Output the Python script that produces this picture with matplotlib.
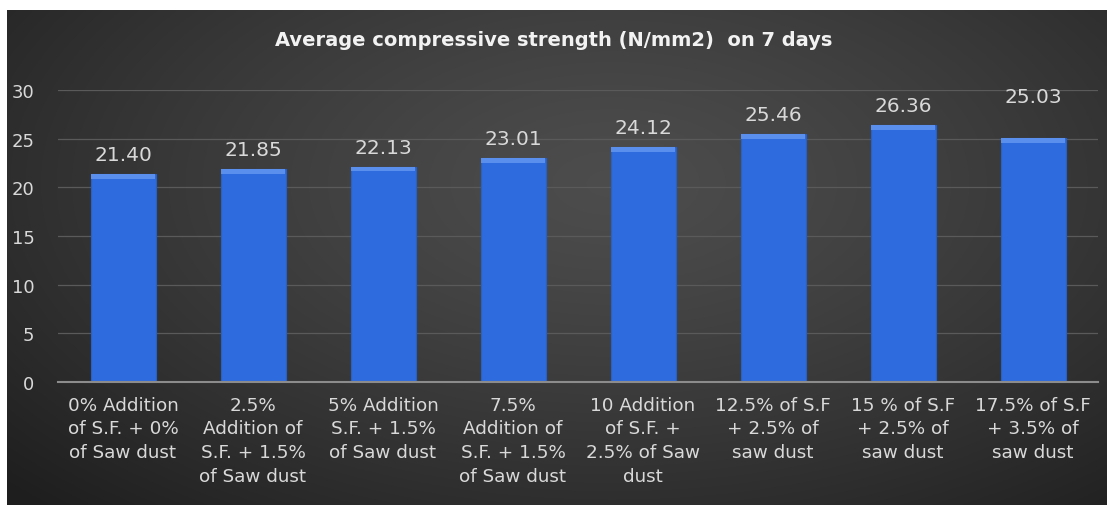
import numpy as np
import matplotlib
matplotlib.use("Agg")
import matplotlib.pyplot as plt

# ---- data ----
categories = [
    "0% Addition\nof S.F. + 0%\nof Saw dust",
    "2.5%\nAddition of\nS.F. + 1.5%\nof Saw dust",
    "5% Addition\nS.F. + 1.5%\nof Saw dust",
    "7.5%\nAddition of\nS.F. + 1.5%\nof Saw dust",
    "10 Addition\nof S.F. +\n2.5% of Saw\ndust",
    "12.5% of S.F\n+ 2.5% of\nsaw dust",
    "15 % of S.F\n+ 2.5% of\nsaw dust",
    "17.5% of S.F\n+ 3.5% of\nsaw dust",
]
values = [21.40, 21.85, 22.13, 23.01, 24.12, 25.46, 26.36, 25.03]
value_labels = ["21.40", "21.85", "22.13", "23.01", "24.12", "25.46", "26.36", "25.03"]
y_ticks = [0, 5, 10, 15, 20, 25, 30]
title = "Average compressive strength (N/mm2)  on 7 days"

# ---- figure ----
W, H = 1107, 506
fig = plt.figure(figsize=(W / 100, H / 100), dpi=100, facecolor="white")

# dark gradient background panel
bg = fig.add_axes([7 / W, 0, 1 - 7 / W, 1 - 11 / H], zorder=0)
ny, nx = 300, 600
yy, xx = np.mgrid[0:1:ny * 1j, 0:1:nx * 1j]
r = np.sqrt(((xx - 0.55) / 0.75) ** 2 + ((yy - 0.35) / 0.9) ** 2)
r = np.clip(r, 0, 1)
c_center, c_edge = 0.30, 0.12
val = c_center - (c_center - c_edge) * r ** 1.3
img = np.dstack([val, val, val])
bg.imshow(img, aspect="auto", extent=[0, 1, 0, 1], origin="upper", interpolation="bilinear")
bg.set_axis_off()

ax = fig.add_axes([58 / W, 1 - 383 / H, (1098 - 58) / W, (383 - 91) / H], zorder=1)
ax.patch.set_alpha(0)

x = np.arange(len(values))
bar_w = 0.5
ax.bar(x, values, width=bar_w, color="#2D6BDE", edgecolor="#2760C6", linewidth=0.8, zorder=3)
# lighter bevel strip at top of each bar
bevel = 0.5
ax.bar(x, [bevel] * len(values), width=bar_w * 0.97, bottom=np.array(values) - bevel,
       color="#5B8FEE", linewidth=0, zorder=4)

ax.set_xlim(-0.5, len(values) - 0.5)
ax.set_ylim(0, 30)
ax.set_yticks(y_ticks)
ax.set_yticklabels([str(t) for t in y_ticks])
ax.set_xticks(x)
ax.set_xticklabels(categories, fontfamily="DejaVu Sans", fontsize=13.2, color="#d9d9d9",
                   linespacing=1.4, va="top")
ax.tick_params(axis="x", length=0, pad=10)
ax.tick_params(axis="y", length=0, pad=17, labelsize=13, labelcolor="#d9d9d9")
for lab in ax.get_yticklabels():
    lab.set_fontfamily("DejaVu Sans")

ax.grid(axis="y", color="#5a5a5a", linewidth=0.9, zorder=1)
ax.set_axisbelow(True)
for s in ["top", "right", "left"]:
    ax.spines[s].set_visible(False)
ax.spines["bottom"].set_color("#8c8c8c")
ax.spines["bottom"].set_linewidth(1.5)
ax.spines["bottom"].set_zorder(5)

# data labels (last one sits higher in the reference)
label_offsets = [14, 14, 14, 14, 14, 14, 14, 30]
for xi, v, lab, off in zip(x, values, value_labels, label_offsets):
    ax.annotate(lab, (xi, v), xytext=(0, off), textcoords="offset points",
                ha="center", va="center", fontsize=14.5, fontfamily="DejaVu Sans",
                color="#d9d9d9", zorder=6, annotation_clip=False)

fig.text(0.5, 1 - 40 / H, title, ha="center", va="center", fontsize=14,
         fontweight="bold", color="#f2f2f2", fontfamily="DejaVu Sans")

fig.savefig("out.png", dpi=100, facecolor=fig.get_facecolor())
